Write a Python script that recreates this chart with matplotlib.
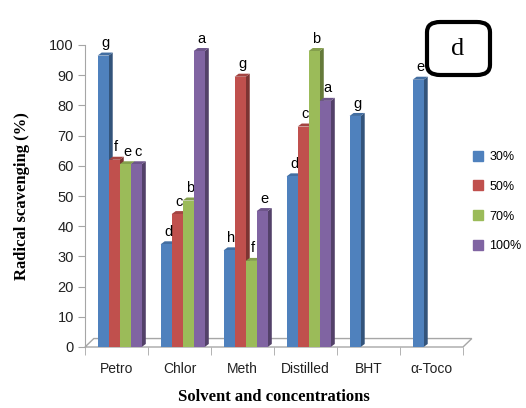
import numpy as np
import matplotlib.pyplot as plt
from matplotlib.patches import Polygon, FancyBboxPatch
from matplotlib.lines import Line2D
import matplotlib.colors as mcolors

# categories and series values
categories = ['Petro', 'Chlor', 'Meth', 'Distilled', 'BHT', 'α-Toco']
series_names = ['30%', '50%', '70%', '100%']
s30 = [96.5, 34, 32, 56.5, 76.5, 88.5]
s50 = [62, 44, 89.5, 73, np.nan, np.nan]
s70 = [60.5, 48.5, 28.5, 98, np.nan, np.nan]
s100 = [60.5, 98, 45, 81.5, np.nan, np.nan]
l30 = ['g', 'd', 'h', 'd', 'g', 'e']
l50 = ['f', 'c', 'g', 'c', '', '']
l70 = ['e', 'b', 'f', 'b', '', '']
l100 = ['c', 'a', 'e', 'a', '', '']
yticks = list(range(0, 101, 10))

values = [s30, s50, s70, s100]
letters = [l30, l50, l70, l100]
colors = ['#4F81BD', '#C0504D', '#9BBB59', '#8064A2']

fig = plt.figure(figsize=(5.26, 4.08), dpi=100)
ax = fig.add_axes([85 / 526, 61 / 408, 378 / 526, 302 / 408])
ax.set_xlim(0, 6)
ax.set_ylim(0, 100)

# 3D-ish bar geometry
w = 0.175
off = 0.2
dx, dy = 0.065, 1.0

def shade(c, f):
    r, g, b = mcolors.to_rgb(c)
    return (r * f, g * f, b * f)

# floor
fdx, fdy = 0.14, 2.8
floor = Polygon([(0, 0), (6, 0), (6 + fdx, fdy), (0 + fdx, fdy)], closed=True,
                facecolor='white', edgecolor='#A6A6A6', lw=1.0, clip_on=False, zorder=1)
ax.add_patch(floor)

z = 2
for i in range(len(categories)):
    for j in range(len(series_names)):
        v = values[j][i]
        if np.isnan(v):
            continue
        x = i + off + j * w
        c = colors[j]
        ax.bar(x, v, width=w, align='edge', color=c, edgecolor='none', zorder=z + 1)
        side = Polygon([(x + w, 0), (x + w + dx, dy), (x + w + dx, v + dy), (x + w, v)],
                       closed=True, facecolor=shade(c, 0.65), edgecolor='none', zorder=z)
        top = Polygon([(x, v), (x + dx, v + dy), (x + w + dx, v + dy), (x + w, v)],
                      closed=True, facecolor=shade(c, 0.85), edgecolor='none', zorder=z)
        ax.add_patch(side)
        ax.add_patch(top)
        ax.text(x + w / 2 + dx / 2, v + dy + 0.8, letters[j][i], ha='center', va='bottom',
                fontsize=10.5, family='Liberation Sans', color='black', zorder=20)
        z += 3

for s in ['top', 'right', 'bottom']:
    ax.spines[s].set_visible(False)
ax.spines['left'].set_color('#A6A6A6')
ax.set_yticks(yticks)
ax.tick_params(axis='y', direction='out', length=5, color='#A6A6A6', labelsize=10.5,
               labelcolor='#222222', pad=3)
for lab in ax.get_yticklabels():
    lab.set_family('Liberation Sans')

ax.set_xticks(np.arange(len(categories)) + 0.5)
ax.set_xticklabels(categories, family='Liberation Sans', fontsize=10, color='#222222')
ax.set_xticks(np.arange(0, 7), minor=True)
ax.tick_params(axis='x', which='major', length=0, pad=11)
ax.tick_params(axis='x', which='minor', direction='out', length=6, color='#A6A6A6')

ax.set_ylabel('Radical scavenging (%)', family='Liberation Serif', fontweight='bold',
              fontsize=12, labelpad=14)
ax.set_xlabel('Solvent and concentrations', family='Liberation Serif', fontweight='bold',
              fontsize=12, labelpad=9)

handles = [Line2D([], [], marker='s', linestyle='none', markersize=7, color=c) for c in colors]
fig.legend(handles, series_names, loc='upper left', bbox_to_anchor=(467 / 526, 1 - 146 / 408),
           frameon=False, prop={'family': 'Liberation Sans', 'size': 9},
           labelspacing=1.42, handletextpad=0.4, handlelength=1.0, borderaxespad=0)

# panel label box
box = FancyBboxPatch((427 / 526, 1 - 75 / 408), 63 / 526, 53 / 408,
                     boxstyle='round,pad=0,rounding_size=0.025', transform=fig.transFigure,
                     facecolor='white', edgecolor='black', lw=3, zorder=30)
fig.patches.append(box)
fig.text(458 / 526, 1 - 49 / 408, 'd', ha='center', va='center', fontsize=19,
         family='Liberation Serif', zorder=31)

fig.savefig('out.png', dpi=100)
